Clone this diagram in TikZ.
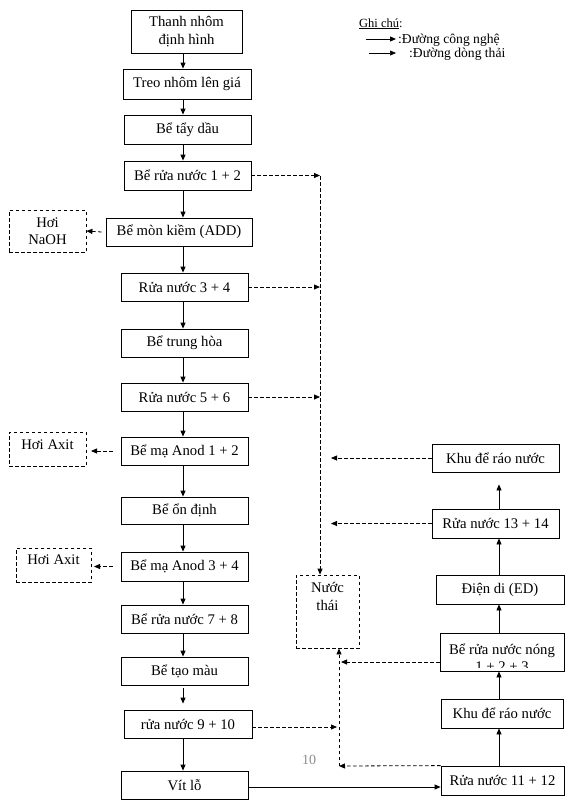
\documentclass[tikz,border=0pt]{standalone}
\usepackage{fontspec}
\setmainfont{Liberation Serif}
\usetikzlibrary{arrows.meta,calc}
\begin{document}
\begin{tikzpicture}[x=1pt,y=-1pt,
 txt/.style={inner sep=0pt,align=center,font=\fontsize{14.7}{17.5}\selectfont},
 box/.style={txt,draw,line width=0.8pt,minimum width=127pt,minimum height=28pt},
 dbox/.style={box,dash pattern=on 3.5pt off 2.5pt},
 arr/.style={line width=0.8pt,-{Triangle[length=6pt,width=5pt]}},
 darr/.style={arr,dash pattern=on 3.5pt off 2.5pt},
 legtxt/.style={inner sep=0pt,font=\fontsize{13.6}{15}\selectfont},
]
\useasboundingbox (0,0) rectangle (579,804);
\coordinate (ax) at (183,0);
\coordinate (rx) at (499,0);
% left column
\node[box,minimum width=111pt,minimum height=43pt] (b1) at (186.5,31.5) {Thanh nhôm\\định hình};
\node[box,minimum width=128pt,minimum height=30pt] (b2) at (187,84) {Treo nhôm lên giá};
\node[box,minimum height=29pt] (b3) at (187.5,129.5) {Bể tẩy dầu};
\node[box,minimum height=29pt] (b4) at (187.5,175.5) {Bể rửa nước 1 + 2};
\node[box,minimum width=146pt] (b5) at (179,232) {Bể mòn kiềm (ADD)};
\node[box] (b6) at (184.5,287) {Rửa nước 3 + 4};
\node[box] (b7) at (184.5,343) {Bể trung hòa};
\node[box] (b8) at (184.5,397) {Rửa nước 5 + 6};
\node[box] (b9) at (184.5,451) {Bể mạ Anod 1 + 2};
\node[box,minimum height=27pt] (b10) at (184.5,510.5) {Bể ổn định};
\node[box,minimum height=29pt] (b11) at (184.5,566.5) {Bể mạ Anod 3 + 4};
\node[box] (b12) at (184.5,619) {Bể rửa nước 7 + 8};
\node[box] (b13) at (184.5,671) {Bể tạo màu};
\node[box,minimum width=128pt] (b14) at (188,724) {rửa nước 9 + 10};
\node[box] (b15) at (184.5,785) {Vít lỗ};
\foreach \a/\b in {b1/b2,b2/b3,b3/b4,b4/b5,b5/b6,b6/b7,b7/b8,b8/b9,b9/b10,b10/b11,b11/b12,b12/b13,b14/b15}
  \draw[arr] (\a.south -| ax) -- (\b.north -| ax);
\draw[arr] ($(b13.south -| ax)+(0,3)$) -- ($(b14.north -| ax)+(0,-6)$);
% side dashed boxes
\node[dbox,minimum width=77pt,minimum height=42pt] (hn) at (47.5,231) {Hơi\\NaOH};
\node[dbox,minimum width=77pt,minimum height=34pt] (ha1) at (47.5,449) {};
\node[txt] at ($(ha1.center)+(0,-4)$) {Hơi Axit};
\node[dbox,minimum width=75pt,minimum height=34pt] (ha2) at (53.5,565) {};
\node[txt] at ($(ha2.center)+(0,-5)$) {Hơi Axit};
\coordinate (j9) at (91,0);
\coordinate (j11) at (94,0);
\draw[darr] ($(b5.west)+(-4,0)$) -- (hn.east);
\draw[darr] ($(b9.west)+(-8,0)$) -- (b9.west -| j9);
\draw[darr] ($(b11.west)+(-8,0)$) -- (b11.west -| j11);
% waste water
\node[dbox,minimum width=63pt,minimum height=73pt] (nt) at (327.5,611.5) {};
\node[txt] at (327.5,596.5) {Nước\\thái};
\coordinate (v1) at (320,176);
\draw[darr] (b4.east) -- (b4.east -| v1);
\draw[darr] (v1) -- (v1 |- nt.north);
\draw[darr] (b6.east) -- (b6.east -| v1);
\draw[darr] (b8.east) -- (b8.east -| v1);
% right column
\node[box] (r1) at (495.5,458) {Khu để ráo nước};
\node[box,minimum height=29pt] (r2) at (495.5,523.5) {Rửa nước 13 + 14};
\node[box,minimum width=128pt,minimum height=29pt] (r3) at (500,589.5) {Điện di (ED)};
\node[box,minimum width=124pt,minimum height=38pt] (r4) at (502,652) {};
\begin{scope}
\clip (440,633) rectangle (564,667.5);
\node[txt,anchor=base] at (502,654) {Bể rửa nước nóng};
\node[txt,anchor=base] at (502,671.5) {1 + 2 + 3};
\end{scope}
\node[box,minimum width=122pt,minimum height=29pt] (r5) at (502,713.5) {Khu để ráo nước};
\node[box,minimum width=123pt,minimum height=29pt] (r6) at (502.5,780.5) {Rửa nước 11 + 12};
\draw[arr] (r2.north -| rx) -- ($(r1.south -| rx)+(0,12)$);
\draw[arr] (r3.north -| rx) -- (r2.south -| rx);
\draw[arr] (r4.north -| rx) -- (r3.south -| rx);
\draw[arr] (r5.north -| rx) -- (r4.south -| rx);
\draw[arr] (r6.north -| rx) -- (r5.south -| rx);
\coordinate (v2) at (331,0);
\draw[darr] (r1.west) -- (r1.west -| v2);
\draw[darr] (r2.west) -- (r2.west -| v2);
\coordinate (v3) at (339,766);
\coordinate (j4) at (341,662);
\draw[darr] (r4.west |- j4) -- (j4);
\draw[darr] (r6.north west) -- (v3);
\draw[darr] (v3) -- (v3 |- nt.south);
\coordinate (j14) at (337,727);
\draw[darr] (b14.east |- j14) -- (j14);
\coordinate (j15) at (0,787);
\draw[arr] (b15.east |- j15) -- (r6.west |- j15);
\node[inner sep=0pt,text=black!45,font=\fontsize{14}{16}\selectfont] (pg) at (309,760) {10};
% legend
\node[inner sep=0pt,font=\fontsize{12.5}{14}\selectfont,anchor=base west] (gc) at (359,27) {\underline{Ghi chú}:};
\coordinate (l1a) at (366,39);
\coordinate (l1b) at (396,39);
\coordinate (l2a) at (369,53);
\coordinate (l2b) at (396,53);
\draw[line width=1pt,-{Triangle[length=6pt,width=5pt]}] (l1a) -- (l1b);
\draw[line width=0.5pt,-{Triangle[length=6pt,width=5pt]}] (l2a) -- (l2b);
\node[legtxt,anchor=base west] (lg1) at (398,43.5) {:Đường công nghệ};
\node[legtxt,anchor=base west] (lg2) at (409,57.5) {:Đường dòng thải};
\end{tikzpicture}
\end{document}
